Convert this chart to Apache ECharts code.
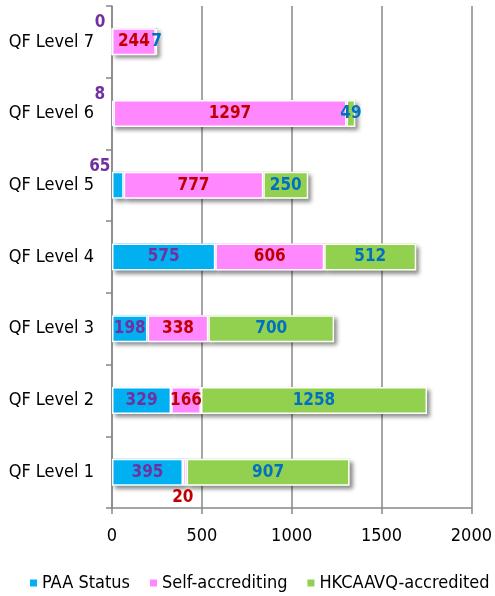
<!DOCTYPE html>
<html>
<head>
<meta charset="utf-8">
<script src="https://cdn.jsdelivr.net/npm/echarts@6/dist/echarts.min.js"></script>
<style>
html,body{margin:0;padding:0;background:#fff;}
#c{width:495px;height:596px;}
</style>
</head>
<body>
<div id="c"></div>
<script>
var categories = ['QF Level 1','QF Level 2','QF Level 3','QF Level 4','QF Level 5','QF Level 6','QF Level 7'];
var paaStatus = [395, 329, 198, 575, 65, 8, 0];
var selfAccrediting = [20, 166, 338, 606, 777, 1297, 244];
var hkcaavq = [907, 1258, 700, 512, 250, 49, 7];
var xTicks = [0, 500, 1000, 1500, 2000];

var FONT = "'Liberation Sans Narrow','Arial Narrow','DejaVu Sans Condensed',sans-serif";
var chart = echarts.init(document.getElementById('c'));

var BW = 27;
function mk(name, arr, color){
  return {
    name: name, type:'bar', stack:'t', barWidth: BW, barGap:'-100%', z:2,
    itemStyle: {color: color, shadowColor:'rgba(0,0,0,0.45)', shadowBlur:4, shadowOffsetX:3, shadowOffsetY:3},
    label:{show:false},
    data: arr.slice()
  };
}
function border(name, arr, labelColor, overrides){
  return {
    name: name + ' border', type:'bar', stack:'b', barWidth: BW, barGap:'-100%', z:3,
    silent:true, legendHoverLink:false,
    itemStyle: {color:'rgba(0,0,0,0)', borderColor:'#fff', borderWidth:1.5},
    label: {show:true, position:'inside', color: labelColor, fontFamily: FONT, fontWeight:'bold', fontSize: 17},
    data: arr.map(function(v,i){
      var d = {value: v};
      if (overrides[i]) d.label = overrides[i];
      return d;
    })
  };
}

var paaOver = {
  4: {position:'top', offset:[-18,5], distance:2},
  5: {position:'top', offset:[-13,5], distance:2},
  6: {position:'top', offset:[-12,5], distance:2}
};
var selfOver = {0: {position:'bottom', offset:[-2,1], distance:2}};

chart.setOption({
  animation:false,
  grid:{left:112, right:23, top:6, bottom:88},
  legend:{top:574, left:30, right:0, padding:0, itemWidth:7, itemHeight:7, itemGap:20, icon:'rect',
    textStyle:{fontFamily:FONT, fontSize:18, color:'#000'},
    data:['PAA Status','Self-accrediting','HKCAAVQ-accredited']},
  xAxis:{type:'value', min:0, max:2000, interval:500,
    axisLine:{show:true, lineStyle:{color:'#888', width:1.5}},
    axisTick:{show:true, length:6, lineStyle:{color:'#888', width:1.5}},
    splitLine:{show:true, lineStyle:{color:'#888', width:1.5}},
    axisLabel:{color:'#000', fontFamily:FONT, fontSize:18, margin:19,
      formatter:function(v){ return xTicks.indexOf(v) >= 0 ? String(v) : ''; }}},
  yAxis:{type:'category', data:categories,
    axisLine:{show:true, lineStyle:{color:'#888', width:1.5}},
    axisTick:{show:true, length:6, lineStyle:{color:'#888', width:1.5}},
    axisLabel:{color:'#000', fontFamily:FONT, fontSize:18, margin:18}},
  series:[
    mk('PAA Status', paaStatus, '#00B0F0'),
    mk('Self-accrediting', selfAccrediting, '#FF88FF'),
    mk('HKCAAVQ-accredited', hkcaavq, '#92D050'),
    border('PAA Status', paaStatus, '#7030A0', paaOver),
    border('Self-accrediting', selfAccrediting, '#C00000', selfOver),
    border('HKCAAVQ-accredited', hkcaavq, '#0070C0', {})
  ]
});
</script>
</body>
</html>
